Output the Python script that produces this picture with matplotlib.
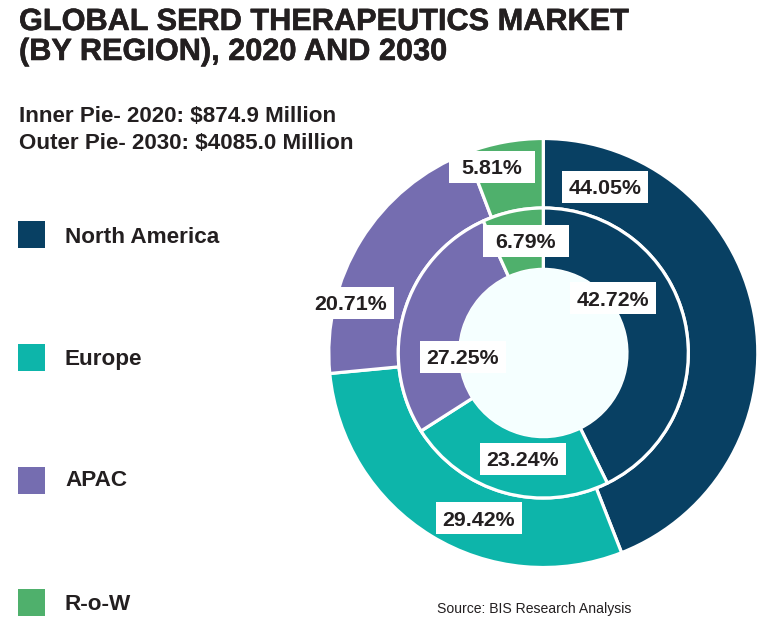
import matplotlib
matplotlib.use("Agg")
import matplotlib.pyplot as plt
import matplotlib.patheffects as pe
from matplotlib.patches import Rectangle

plt.rcParams['font.family'] = ['Liberation Sans', 'DejaVu Sans']

regions = ['North America', 'Europe', 'APAC', 'R-o-W']
colors = ['#084063', '#0DB5AA', '#756DB0', '#4FB06C']
inner_2020 = [42.72, 23.24, 27.25, 6.79]
outer_2030 = [44.05, 29.42, 20.71, 5.81]

W, H = 772, 627
TXT = '#231F20'
fig = plt.figure(figsize=(W / 100, H / 100), dpi=100, facecolor='white')

# pixel coordinates for the page, drawn above the donut
bg = fig.add_axes([0, 0, 1, 1])
bg.set_xlim(0, W)
bg.set_ylim(H, 0)
bg.axis('off')
bg.set_zorder(3)
bg.patch.set_alpha(0)

heavy = [pe.withStroke(linewidth=0.4, foreground=TXT)]
bg.text(19, 30, 'GLOBAL SERD THERAPEUTICS MARKET', fontsize=22.1, fontweight='bold',
        color=TXT, va='baseline', path_effects=heavy)
bg.text(19, 60, '(BY REGION), 2020 AND 2030', fontsize=22.1, fontweight='bold',
        color=TXT, va='baseline', path_effects=heavy)
bg.text(19, 122, 'Inner Pie- 2020: $874.9 Million', fontsize=16.1, fontweight='bold',
        color=TXT, va='baseline')
bg.text(19, 149, 'Outer Pie- 2030: $4085.0 Million', fontsize=16.1, fontweight='bold',
        color=TXT, va='baseline')

box_tops = [221, 344, 467, 589]
text_base = [243, 365, 486, 610]
for name, col, top, base in zip(regions, colors, box_tops, text_base):
    bg.add_patch(Rectangle((18, top), 26.5, 26.5, color=col, lw=0))
    bg.text(65, base, name, fontsize=16.2, fontweight='bold', color=TXT, va='baseline')

bg.text(534, 613, 'Source: BIS Research Analysis', fontsize=10.05, color=TXT,
        ha='center', va='baseline')

# donut centre about (543, 353), outer radius 214
R = 214.5
ax = fig.add_axes([(543.3 - R) / W, 1 - (353 + R) / H, 2 * R / W, 2 * R / H])
wp = dict(edgecolor='white', linewidth=2.3)
ax.pie(outer_2030, colors=colors, radius=1.0, startangle=90, counterclock=False,
       wedgeprops=dict(width=1.0 - 0.676, **wp))
ax.pie(inner_2020, colors=colors, radius=0.676, startangle=90, counterclock=False,
       wedgeprops=dict(width=0.676 - 0.39, **wp))
ax.add_patch(plt.Circle((0, 0), 0.394, color='#F5FFFF', zorder=5, lw=0))
ax.set_xlim(-1, 1)
ax.set_ylim(-1, 1)

outer_labels = [f'{v:.2f}%' for v in outer_2030]
inner_labels = [f'{v:.2f}%' for v in inner_2020]
outer_pos = [(605, 186.5), (479, 518), (351, 302.5), (491.5, 167)]
inner_pos = [(613, 298), (523, 459), (463, 357), (526, 240.5)]
for txt, (x, y) in zip(outer_labels + inner_labels, outer_pos + inner_pos):
    bg.add_patch(Rectangle((x - 43, y - 16), 86, 32, color='white', lw=0, zorder=9))
    bg.text(x, y + 7.5, txt, fontsize=15.4, fontweight='bold', color=TXT, ha='center',
            va='baseline', zorder=10)

fig.savefig('out.png', dpi=100)
